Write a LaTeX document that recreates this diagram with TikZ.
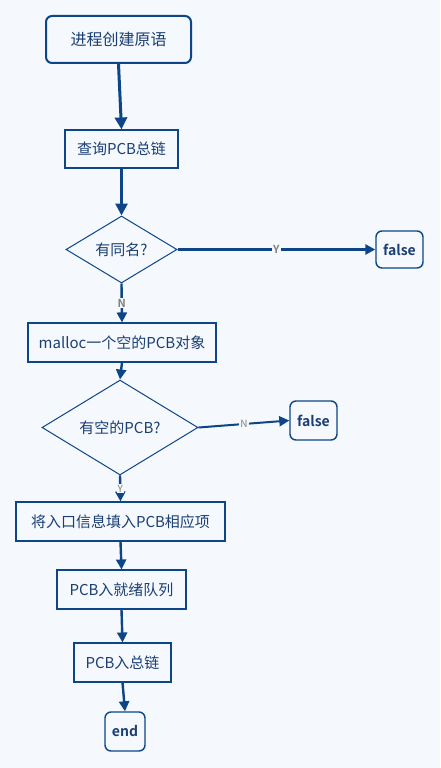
\documentclass[tikz,border=0pt]{standalone}
\usepackage{fontspec}
\setmainfont{Noto Sans CJK SC}
\newfontfamily\cjkb{Noto Sans CJK SC Bold}
\usetikzlibrary{shapes.geometric,arrows.meta}
\definecolor{bgc}{HTML}{F5F8FD}
\definecolor{lnc}{HTML}{0D4688}
\definecolor{txc}{HTML}{1B3F73}
\definecolor{lbc}{HTML}{808080}
\tikzset{
  x=1pt,y=-1pt,
  every node/.style={text=txc,inner sep=0pt,font=\fontsize{15}{17}\selectfont},
  boxnode/.style={draw=lnc,line width=1.1pt,rectangle},
  roundnode/.style={draw=lnc,line width=1.4pt,rectangle,rounded corners=6pt,font=\cjkb\fontsize{14}{16}\selectfont},
  decnode/.style={draw=lnc,line width=1pt,diamond},
  flow/.style={draw=lnc,line width=2.4pt,-{Triangle[length=10pt,width=10pt]}},
  bigflow/.style={draw=lnc,line width=3pt,-{Triangle[length=12pt,width=12pt]}},
  lab/.style={fill=bgc,text=lbc,font=\cjkb\fontsize{11}{12}\selectfont,inner sep=1pt}
}
\begin{document}
\begin{tikzpicture}
\fill[bgc] (0,0) rectangle (440,768);
\useasboundingbox (0,0) rectangle (440,768);
\node[roundnode,line width=2pt,minimum width=145pt,minimum height=47pt,font=\fontsize{16}{18}\selectfont] (start) at (118.5,39.5) {进程创建原语};
\node[boxnode,minimum width=113pt,minimum height=38pt] (query) at (121.5,149) {查询PCB总链};
\node[decnode,minimum width=111pt,minimum height=67pt] (same) at (121.5,249.5) {有同名?};
\node[roundnode,minimum width=47pt,minimum height=37pt] (f1) at (399.5,249.5) {false};
\node[boxnode,minimum width=188pt,minimum height=39pt] (malloc) at (122,342.5) {malloc一个空的PCB对象};
\node[decnode,minimum width=156pt,minimum height=81pt] (empty) at (120,427.5) {有空的PCB?};
\node[roundnode,minimum width=47pt,minimum height=39pt] (f2) at (313.5,420.5) {false};
\node[boxnode,minimum width=209pt,minimum height=39pt] (fill) at (120.5,521.5) {将入口信息填入PCB相应项};
\node[boxnode,minimum width=129pt,minimum height=39pt] (ready) at (121.5,589.5) {PCB入就绪队列};
\node[boxnode,minimum width=97pt,minimum height=39pt] (chain) at (122.5,662.5) {PCB入总链};
\node[roundnode,minimum width=40pt,minimum height=39pt] (end) at (125,731.5) {end};
\draw[bigflow] (start.south) -- (query.north);
\draw[bigflow,line width=2.8pt] (query.south) -- (same.north);
\draw[flow,line width=2.8pt] (same.east) -- node[lab]{Y} (f1.west);
\draw[flow] (same.south) -- node[lab]{N} (malloc.north);
\draw[flow] (malloc.south) -- (empty.north);
\draw[flow,line width=2pt] (empty.east) -- node[lab,font=\fontsize{10}{11}\selectfont]{N} (f2.west);
\draw[flow] (empty.south) -- node[lab,font=\fontsize{10}{11}\selectfont]{Y} (fill.north);
\draw[flow] (fill.south) -- (ready.north);
\draw[flow] (ready.south) -- (chain.north);
\draw[flow] (chain.south) -- (end.north);
\end{tikzpicture}
\end{document}
